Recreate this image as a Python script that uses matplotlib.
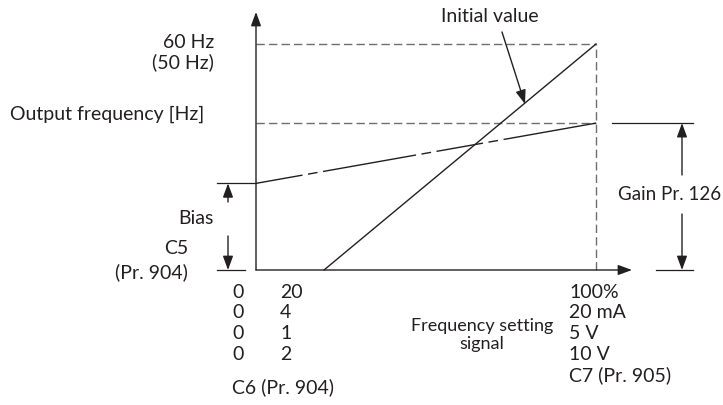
"""Bias / gain calibration diagram for the frequency setting signal."""
import matplotlib.pyplot as plt

plt.rcParams["font.family"] = ["Lato", "DejaVu Sans"]

# chart values
SIGNAL_RANGE_PCT = [0, 100]
INITIAL_SIGNAL_PCT = [20, 100]
INITIAL_FREQ_HZ = [0, 60]
MAX_FREQ_HZ = 60
BIAS_HZ = 23
GAIN_HZ = 39
MIN_ZERO_COL = ["0", "0", "0", "0"]
MIN_SIGNAL_COL = ["20", "4", "1", "2"]
MAX_SIGNAL_COL = ["100%", "20 mA", "5 V", "10 V", "C7 (Pr. 905)"]

# pixel layout of the original drawing (origin at 256,270; 100% at 596; 60 Hz at 44)
X0, Y0 = 256, 270
PX_PER_PCT = (596 - X0) / 100
PX_PER_HZ = (Y0 - 44) / MAX_FREQ_HZ
W, H = 723, 405
ROW0, ROW_STEP = 292, 20.7


def px(x, y):
    return (x - X0) / PX_PER_PCT, (Y0 - y) / PX_PER_HZ


INK = "#231f20"
GREY = "#6d6e71"
FS = 14

fig = plt.figure(figsize=(W / 100, H / 100), dpi=100)
ax = fig.add_axes([0, 0, 1, 1])
ax.set_xlim(px(0, 0)[0], px(W, 0)[0])
ax.set_ylim(px(0, H)[1], px(0, 0)[1])
ax.axis("off")


def arrow(start, end, color=INK):
    ax.annotate("", xy=end, xytext=start,
                arrowprops=dict(arrowstyle="-|>,head_length=0.6,head_width=0.22",
                                mutation_scale=14, color=color, lw=1.0,
                                shrinkA=0, shrinkB=0))


def label(x, y, s, ha="left", **kw):
    ax.text(*px(x, y), s, fontsize=kw.pop("fontsize", FS), ha=ha, va="center",
            color=INK, **kw)


# axes with arrow heads
arrow(px(X0, Y0), px(X0, 12))
arrow(px(X0, Y0), px(632, Y0))

# dashed guide lines
x_lo, x_hi = SIGNAL_RANGE_PCT
ax.plot([x_lo, x_hi], [MAX_FREQ_HZ, MAX_FREQ_HZ], color=GREY, lw=1.0, dashes=(6, 3))
ax.plot([x_lo, x_hi], [GAIN_HZ, GAIN_HZ], color=GREY, lw=1.0, dashes=(6, 3))
ax.plot([x_hi, x_hi], [0, MAX_FREQ_HZ], color=GREY, lw=1.0, dashes=(6, 3))

# initial value line and adjusted (bias/gain) line
ax.plot(INITIAL_SIGNAL_PCT, INITIAL_FREQ_HZ, color=INK, lw=1.0)
cal, = ax.plot(SIGNAL_RANGE_PCT, [BIAS_HZ, GAIN_HZ], color=INK, lw=1.0)
cal.set_dashes((34, 4, 7, 4, 68, 4, 7, 4))

# bias dimension
bx = px(228, 0)[0]
ax.plot([px(217, 0)[0], 0], [BIAS_HZ, BIAS_HZ], color=INK, lw=0.9)
ax.plot([px(217, 0)[0], px(245, 0)[0]], [0, 0], color=INK, lw=0.9)
arrow((bx, px(0, 202)[1]), (bx, BIAS_HZ))
arrow((bx, px(0, 236)[1]), (bx, 0))

# gain dimension
gx = px(682, 0)[0]
ax.plot([px(612, 0)[0], px(693, 0)[0]], [GAIN_HZ, GAIN_HZ], color=INK, lw=0.9)
ax.plot([px(656, 0)[0], px(693, 0)[0]], [0, 0], color=INK, lw=0.9)
arrow((gx, px(0, 175)[1]), (gx, GAIN_HZ))
arrow((gx, px(0, 214)[1]), (gx, 0))
label(721, 195, "Gain Pr. 126", ha="right", fontsize=13.5)

# initial value callout
label(490, 17, "Initial value", ha="center")
arrow(px(502, 32), px(525, 104))

# left labels
label(214, 42, "60 Hz", ha="right")
label(214, 62, "(50 Hz)", ha="right")
label(10, 114, "Output frequency [Hz]")
label(214, 218, "Bias", ha="right")
label(188, 248, "C5", ha="right")
label(188, 272, "(Pr. 904)", ha="right")

# bottom signal scale
for i, (z, lo) in enumerate(zip(MIN_ZERO_COL, MIN_SIGNAL_COL)):
    label(232, ROW0 + ROW_STEP * i, z)
    label(280, ROW0 + ROW_STEP * i, lo)
for i, hi in enumerate(MAX_SIGNAL_COL):
    label(569, ROW0 + ROW_STEP * i, hi)
label(232, 387, "C6 (Pr. 904)")
label(482, 326, "Frequency setting", ha="center", fontsize=13)
label(482, 344, "signal", ha="center", fontsize=13)

fig.savefig("out.png", dpi=100)
